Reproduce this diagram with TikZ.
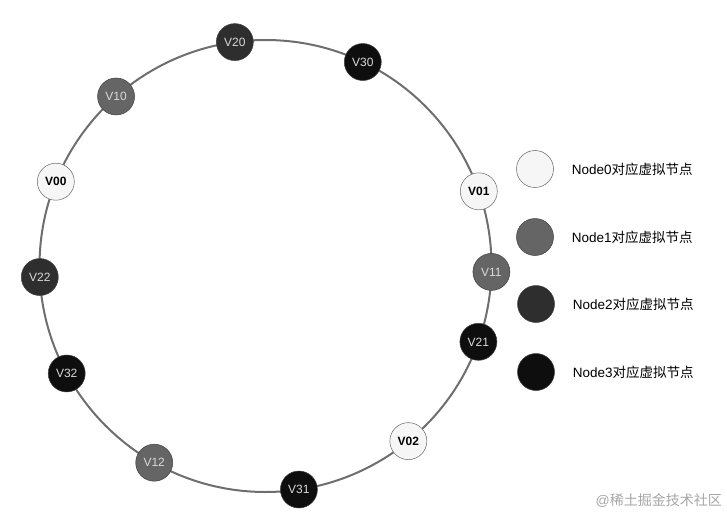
\documentclass[tikz,border=0pt]{standalone}
\usepackage{fontspec}
\setmainfont{Liberation Sans}
\newfontfamily\cjk{Noto Sans CJK SC}
\usepackage{xcolor}
\usetikzlibrary{positioning}

\definecolor{ringgray}{HTML}{6E6E6E}
\definecolor{nodezero}{HTML}{F6F6F6}
\definecolor{nodeone}{HTML}{656565}
\definecolor{nodetwo}{HTML}{2E2E2E}
\definecolor{nodethree}{HTML}{0E0E0E}

\begin{document}
\begin{tikzpicture}[
        x=1pt, y=1pt,
        ring/.style={line width=2pt, ringgray},
        vnode/.style={circle, inner sep=0pt, minimum size=37pt, draw=black!75, line width=0.5pt,
            font=\fontsize{12}{12}\selectfont},
        vzero/.style={vnode, fill=nodezero, draw=black!60, text=black, font=\fontsize{12}{12}\selectfont\bfseries},
        vone/.style={vnode, fill=nodeone, text=white!85!black},
        vtwo/.style={vnode, fill=nodetwo, text=white!85!black},
        vthree/.style={vnode, fill=nodethree, text=white!85!black},
        legtext/.style={font=\fontsize{13.5}{13.5}\selectfont, anchor=west, inner sep=0pt},
    ]
    \useasboundingbox (0,0) rectangle (727,515);
    % RING
    \coordinate (c) at (265.5,249);
    \draw[ring] (c) circle (226);
    % VIRTUAL NODES
    \foreach \n/\ang/\sty in {V20/97.8/vtwo, V30/64.5/vthree, V10/131.4/vone, V00/158.1/vzero,
        V22/182.8/vtwo, V32/208.4/vthree, V12/240.5/vone, V31/278.5/vthree,
        V02/309.2/vzero, V21/340.4/vthree, V11/358.5/vone, V01/19.3/vzero}
        \node[\sty] (\n) at ([shift={(\ang:226)}]c) {\n};
    % LEGEND
    \node[vzero] (lg0) at (535,346) {};
    \node[vone] (lg1) at (535,278) {};
    \node[vtwo] (lg2) at (536,211) {};
    \node[vthree] (lg3) at (536,143) {};
    \node[legtext, right=18pt of lg0] (lt0) {Node0{\cjk 对应虚拟节点}};
    \node[legtext, right=18pt of lg1] (lt1) {Node1{\cjk 对应虚拟节点}};
    \node[legtext, right=18pt of lg2] (lt2) {Node2{\cjk 对应虚拟节点}};
    \node[legtext, right=18pt of lg3] (lt3) {Node3{\cjk 对应虚拟节点}};
    % WATERMARK
    \node[anchor=east, inner sep=0pt, text=black!35, font=\fontsize{14}{14}\selectfont] (wm) at (722,14) {@{\cjk 稀土掘金技术社区}};
\end{tikzpicture}
\end{document}
